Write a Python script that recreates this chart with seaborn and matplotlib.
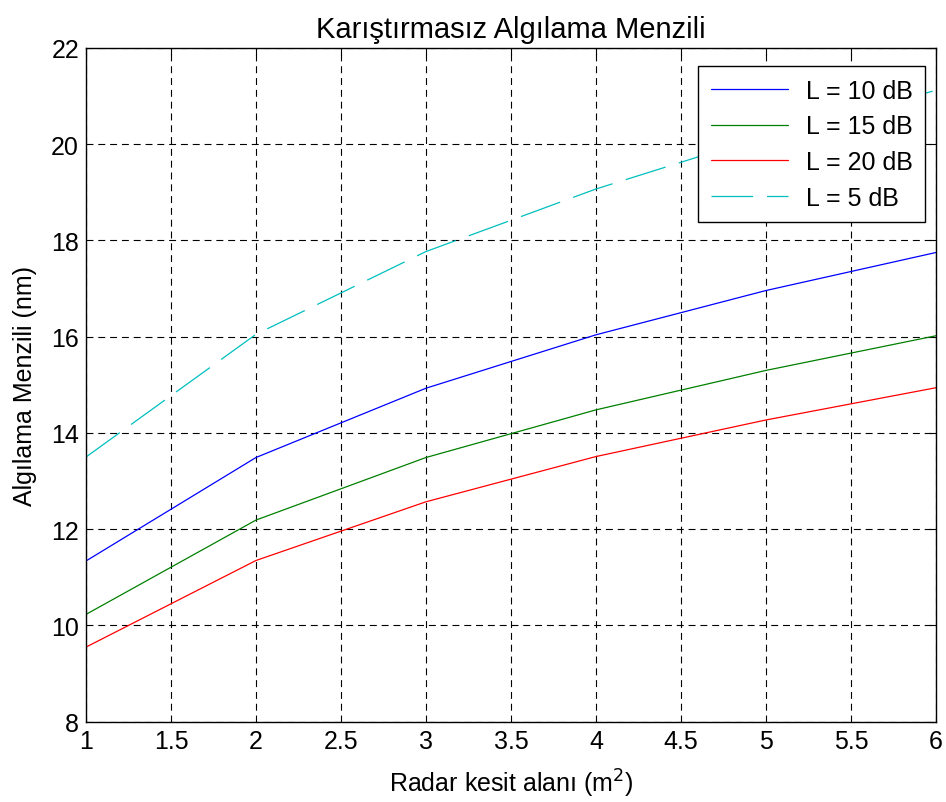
import numpy as np
import pandas as pd
import matplotlib
matplotlib.use("Agg")
import matplotlib.pyplot as plt
import seaborn as sns

# radar cross section values (m^2)
rcs = [1, 2, 3, 4, 5, 6]

# detection range (nm) for each loss level
range_10db = [11.34, 13.49, 14.93, 16.04, 16.96, 17.75]
range_15db = [10.23, 12.19, 13.49, 14.48, 15.30, 16.02]
range_20db = [9.55, 11.35, 12.57, 13.51, 14.27, 14.94]
range_5db = [13.50, 16.05, 17.77, 19.07, 20.18, 21.12]

labels = ["L = 10 dB", "L = 15 dB", "L = 20 dB", "L = 5 dB"]
colors = ["#0000ff", "#008000", "#ff0000", "#00bfbf"]

sns.set_style("white")
plt.rcParams["font.family"] = ["Liberation Sans", "DejaVu Sans"]
plt.rcParams["lines.scale_dashes"] = False
plt.rcParams["text.color"] = "black"
plt.rcParams["axes.labelcolor"] = "black"

fig = plt.figure(figsize=(9.46, 8.03), dpi=100)
ax = fig.add_axes([0.0909, 0.1000, 0.8985, 0.8390])

series = [range_10db, range_15db, range_20db, range_5db]
for vals, lab, col in zip(series, labels, colors):
    sns.lineplot(x=rcs, y=vals, ax=ax, color=col, label=lab, linewidth=0.9)

# MATLAB style long dashes for the 5 dB curve
ax.lines[3].set_dashes((30, 10))

ax.set_xlim(1, 6)
ax.set_ylim(8, 22)
ax.set_xticks(np.arange(1, 6.01, 0.5))
ax.set_xticklabels(["1", "1.5", "2", "2.5", "3", "3.5", "4", "4.5", "5", "5.5", "6"])
ax.set_yticks(range(8, 23, 2))

ax.grid(True, color="black", linestyle=(0, (5, 3.5)), linewidth=0.8)
for sp in ax.spines.values():
    sp.set_color("black")
    sp.set_linewidth(1.0)
ax.tick_params(direction="in", length=5, width=0.8, top=True, right=True,
               labelsize=18, pad=5, colors="black")

ax.set_title("Karıştırmasız Algılama Menzili", fontsize=21, pad=8)
ax.set_xlabel("Radar kesit alanı (m$^2$)", fontsize=18, labelpad=10)
ax.set_ylabel("Algılama Menzili (nm)", fontsize=18, labelpad=10)

leg = ax.legend(loc="upper right", fontsize=18, frameon=True, fancybox=False,
                edgecolor="black", framealpha=1, borderpad=0.5,
                handlelength=3.1, handletextpad=0.7, labelspacing=0.47,
                borderaxespad=0, bbox_to_anchor=(0.987, 0.973))
leg.get_frame().set_linewidth(1.0)

fig.savefig("out.png", dpi=100)
